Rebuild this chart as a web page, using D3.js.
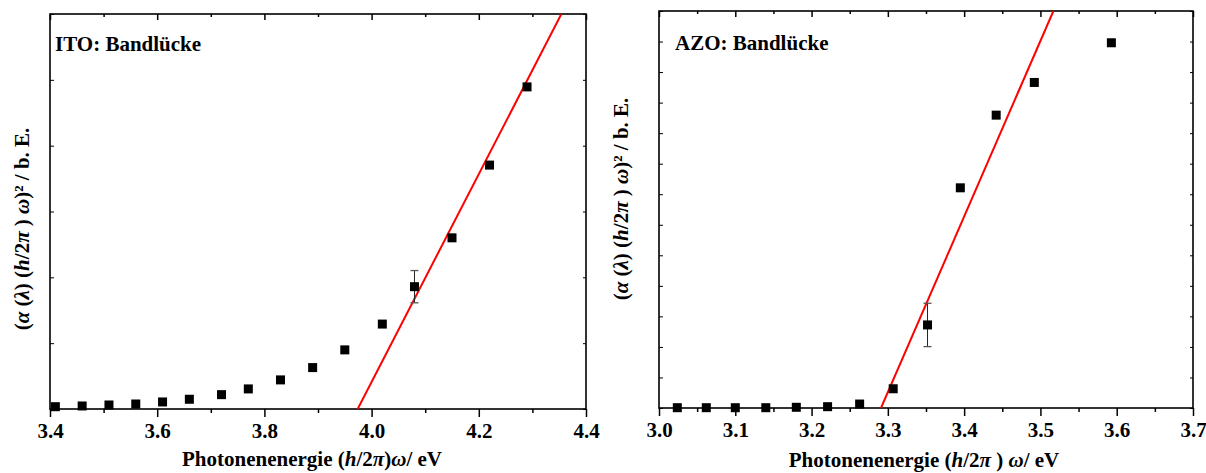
<!DOCTYPE html>
<html>
<head>
<meta charset="utf-8">
<script src="https://cdn.jsdelivr.net/npm/d3@7"></script>
<style>
  html, body { margin: 0; padding: 0; background: #fff; }
  svg { display: block; }
  text { font-family: "Liberation Serif", "Times New Roman", serif; font-weight: bold; fill: #000; }
</style>
</head>
<body>
<svg id="chart" width="1206" height="473"></svg>
<script>
// ITO: photon energy (eV) and (alpha*hv)^2 in arbitrary units
const itoEnergy = [3.41, 3.46, 3.51, 3.56, 3.61, 3.66, 3.72, 3.77, 3.83, 3.89, 3.95, 4.02, 4.08, 4.15, 4.22, 4.29];
const itoSignal = [0.035, 0.046, 0.061, 0.076, 0.107, 0.148, 0.218, 0.305, 0.442, 0.629, 0.898, 1.29, 1.858, 2.60, 3.705, 4.893];
const itoErrEnergy = [4.08];
const itoErrValue = [1.858];
const itoErrSize = [0.245];
const itoFitX = [3.974, 4.354];
const itoFitY = [0, 6];
const itoMajorTicks = [3.4, 3.6, 3.8, 4.0, 4.2, 4.4];
const itoMinorTicks = [3.5, 3.7, 3.9, 4.1, 4.3];
const itoYTicks = [0, 1, 2, 3, 4, 5, 6];

// AZO: photon energy (eV) and (alpha*hv)^2 in arbitrary units
const azoEnergy = [3.024, 3.062, 3.100, 3.140, 3.180, 3.221, 3.263, 3.307, 3.352, 3.395, 3.442, 3.492, 3.593];
const azoSignal = [0.01, 0.01, 0.01, 0.01, 0.023, 0.043, 0.13, 0.63, 2.72, 7.21, 9.59, 10.66, 11.96];
const azoErrEnergy = [3.352];
const azoErrValue = [2.72];
const azoErrSize = [0.71];
const azoFitX = [3.291, 3.517];
const azoFitY = [0, 13];
const azoMajorTicks = [3.0, 3.1, 3.2, 3.3, 3.4, 3.5, 3.6, 3.7];
const azoMinorTicks = [3.05, 3.15, 3.25, 3.35, 3.45, 3.55, 3.65];
const azoYTicks = d3.range(0, 14);

const FONT = 21;
const svg = d3.select("#chart");

function yLabel(g) {
  // (α (λ) (h/2π ) ω)² / b. E.
  g.append("tspan").text("(");
  g.append("tspan").attr("font-style", "italic").text("α");
  g.append("tspan").text(" (");
  g.append("tspan").attr("font-style", "italic").text("λ");
  g.append("tspan").text(") (");
  g.append("tspan").attr("font-style", "italic").text("h");
  g.append("tspan").text("/2");
  g.append("tspan").attr("font-style", "italic").text("π");
  g.append("tspan").text(" ) ");
  g.append("tspan").attr("font-style", "italic").text("ω");
  g.append("tspan").text(")² / b. E.");
}

function xLabel(g, spaced) {
  g.append("tspan").text("Photonenenergie (");
  g.append("tspan").attr("font-style", "italic").text("h");
  g.append("tspan").text("/2");
  g.append("tspan").attr("font-style", "italic").text("π");
  g.append("tspan").text(spaced ? " ) " : ")");
  g.append("tspan").attr("font-style", "italic").text("ω");
  g.append("tspan").text("/ eV");
}

function drawPanel(p) {
  const x = d3.scaleLinear().domain(p.xDomain).range([p.left, p.right]);
  const y = d3.scaleLinear().domain(p.yDomain).range([p.bottom, p.top]);
  const g = svg.append("g");

  // clip for the fit line
  const clipId = "clip-" + p.id;
  svg.append("clipPath").attr("id", clipId)
    .append("rect").attr("x", p.left).attr("y", p.top)
    .attr("width", p.right - p.left).attr("height", p.bottom - p.top);

  // bottom axis: outward ticks
  g.append("g").attr("transform", `translate(0,${p.bottom})`)
    .call(d3.axisBottom(x).tickValues(p.major).tickSize(8).tickFormat(d3.format(".1f")))
    .call(a => a.select(".domain").remove())
    .call(a => a.selectAll("line").attr("stroke", "#000").attr("stroke-width", 1.5))
    .call(a => a.selectAll("text").attr("font-size", FONT).attr("dy", "0.88em")
      .attr("font-family", "Liberation Serif").attr("font-weight", "bold").attr("fill", "#000"));
  g.append("g").attr("transform", `translate(0,${p.bottom})`)
    .call(d3.axisBottom(x).tickValues(p.minor).tickSize(4).tickFormat(""))
    .call(a => a.select(".domain").remove())
    .call(a => a.selectAll("line").attr("stroke", "#000").attr("stroke-width", 1.5));

  // top axis: inward ticks
  g.append("g").attr("transform", `translate(0,${p.top})`)
    .call(d3.axisBottom(x).tickValues(p.major).tickSize(6).tickFormat(""))
    .call(a => a.select(".domain").remove())
    .call(a => a.selectAll("line").attr("stroke", "#000").attr("stroke-width", 1.5));
  g.append("g").attr("transform", `translate(0,${p.top})`)
    .call(d3.axisBottom(x).tickValues(p.minor).tickSize(3).tickFormat(""))
    .call(a => a.select(".domain").remove())
    .call(a => a.selectAll("line").attr("stroke", "#000").attr("stroke-width", 1.5));

  // left and right axes: inward ticks, no labels
  g.append("g").attr("transform", `translate(${p.left},0)`)
    .call(d3.axisRight(y).tickValues(p.yTicks).tickSize(4).tickFormat(""))
    .call(a => a.select(".domain").remove())
    .call(a => a.selectAll("line").attr("stroke", "#000").attr("stroke-width", 1));
  g.append("g").attr("transform", `translate(${p.right},0)`)
    .call(d3.axisLeft(y).tickValues(p.yTicks).tickSize(3).tickFormat(""))
    .call(a => a.select(".domain").remove())
    .call(a => a.selectAll("line").attr("stroke", "#000").attr("stroke-width", 1));

  // frame
  g.append("rect").attr("x", p.left).attr("y", p.top)
    .attr("width", p.right - p.left).attr("height", p.bottom - p.top)
    .attr("fill", "none").attr("stroke", "#000").attr("stroke-width", 1.6);

  // linear fit line
  g.append("line").attr("clip-path", `url(#${clipId})`)
    .attr("x1", x(p.fitX[0])).attr("y1", y(p.fitY[0]))
    .attr("x2", x(p.fitX[1])).attr("y2", y(p.fitY[1]))
    .attr("stroke", "#f00").attr("stroke-width", 2);

  // error bars
  const eb = g.append("g");
  p.errX.forEach((ex, i) => {
    const cx = x(ex), y0 = y(p.errY[i] - p.errS[i]), y1 = y(p.errY[i] + p.errS[i]);
    eb.append("line").attr("x1", cx).attr("x2", cx).attr("y1", y0).attr("y2", y1)
      .attr("stroke", "#222").attr("stroke-width", 1);
    [y0, y1].forEach(yy => eb.append("line").attr("x1", cx - 4).attr("x2", cx + 4)
      .attr("y1", yy).attr("y2", yy).attr("stroke", "#555").attr("stroke-width", 1.3));
  });

  // data markers
  const s = 9;
  g.append("g").selectAll("rect").data(p.xs.map((d, i) => [d, p.ys[i]])).join("rect")
    .attr("x", d => x(d[0]) - s / 2).attr("y", d => y(d[1]) - s / 2)
    .attr("width", s).attr("height", s).attr("fill", "#000");

  // panel title
  g.append("text").attr("x", p.titleX).attr("y", p.titleY).attr("font-size", FONT).text(p.title);

  // axis titles
  const xt = g.append("text").attr("x", p.xTitleX).attr("y", p.xTitleY)
    .attr("text-anchor", "middle").attr("font-size", FONT);
  xLabel(xt, p.spaced);
  const yt = g.append("text").attr("text-anchor", "middle").attr("font-size", FONT)
    .attr("transform", `translate(${p.yTitleX},${p.yTitleY}) rotate(-90)`);
  yLabel(yt);
}

drawPanel({
  id: "ito", left: 50, right: 586, top: 14, bottom: 409,
  xDomain: [3.4, 4.4], yDomain: [0, 6],
  major: itoMajorTicks, minor: itoMinorTicks, yTicks: itoYTicks,
  xs: itoEnergy, ys: itoSignal,
  errX: itoErrEnergy, errY: itoErrValue, errS: itoErrSize,
  fitX: itoFitX, fitY: itoFitY,
  title: "ITO: Bandlücke", titleX: 55, titleY: 51,
  xTitleX: 312, xTitleY: 466, spaced: false,
  yTitleX: 29, yTitleY: 229
});

drawPanel({
  id: "azo", left: 659, right: 1193, top: 11, bottom: 408,
  xDomain: [3.0, 3.7], yDomain: [0, 13],
  major: azoMajorTicks, minor: azoMinorTicks, yTicks: azoYTicks,
  xs: azoEnergy, ys: azoSignal,
  errX: azoErrEnergy, errY: azoErrValue, errS: azoErrSize,
  fitX: azoFitX, fitY: azoFitY,
  title: "AZO: Bandlücke", titleX: 675, titleY: 50,
  xTitleX: 924, xTitleY: 467, spaced: true,
  yTitleX: 628, yTitleY: 199
});
</script>
</body>
</html>
